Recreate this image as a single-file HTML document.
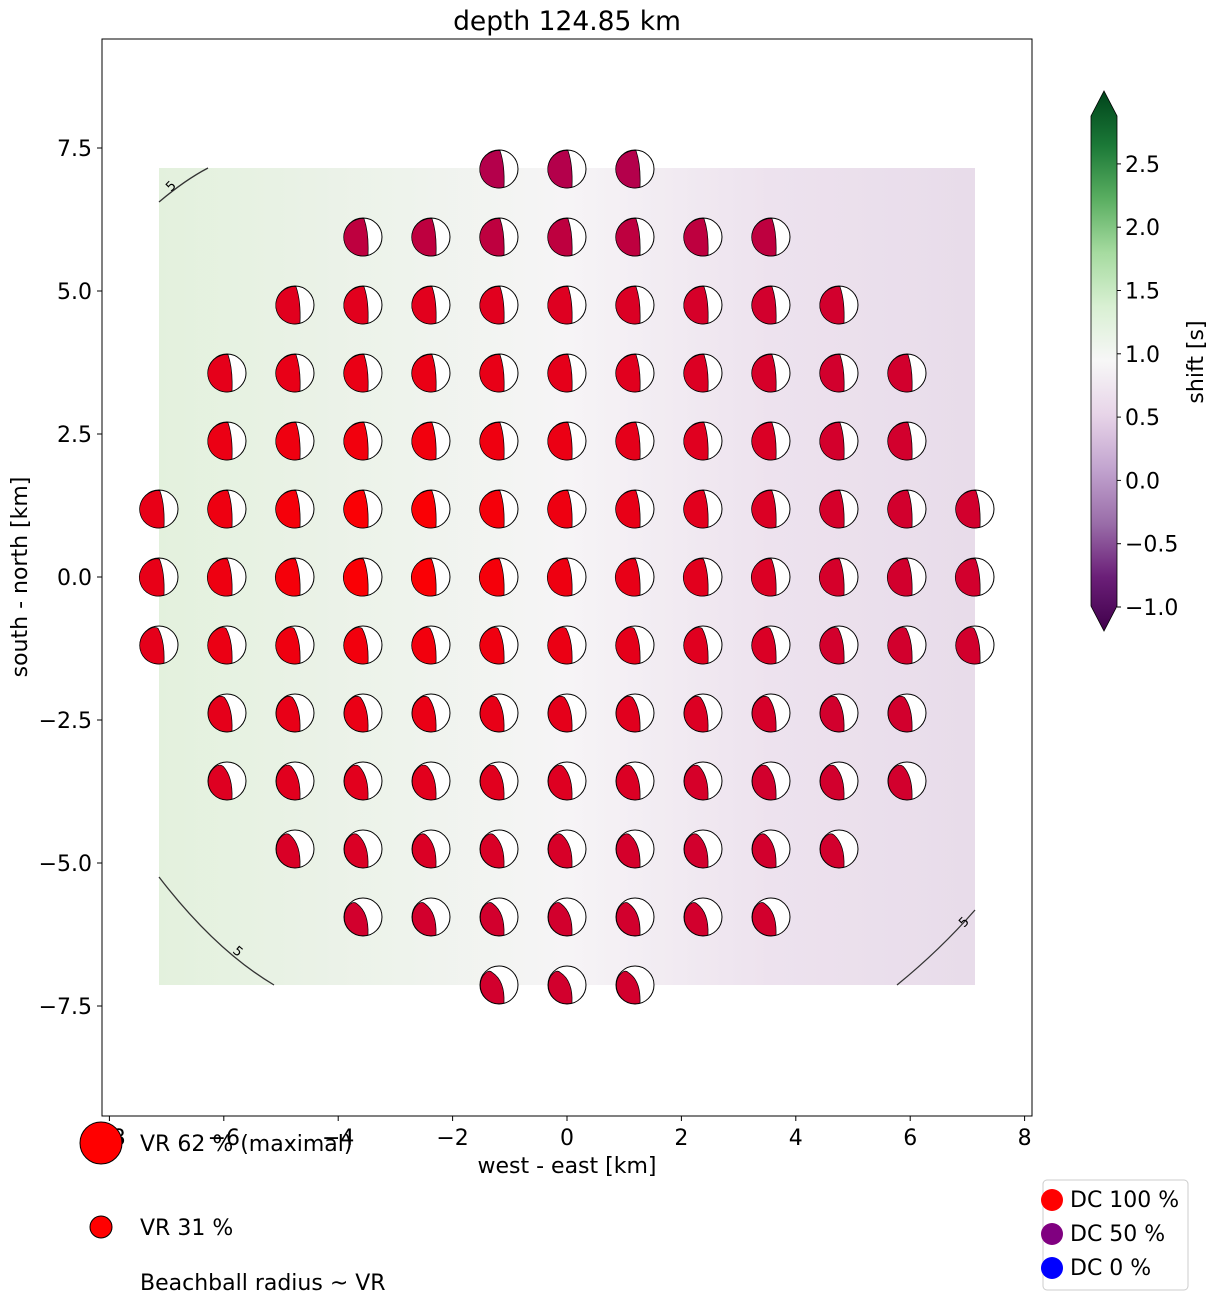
<!DOCTYPE html>
<html><head><meta charset="utf-8"><style>
body{margin:0;background:#fff;}
text{font-family:"DejaVu Sans","Liberation Sans",sans-serif;fill:#000;}
</style></head><body>
<svg id="s" width="1219" height="1305" xmlns="http://www.w3.org/2000/svg">
<defs>
<linearGradient id="bg" x1="0" y1="0" x2="1" y2="0">
<stop offset="0" stop-color="#e3f1dd"/>
<stop offset="0.3" stop-color="#eef3ec"/>
<stop offset="0.5" stop-color="#f6f4f6"/>
<stop offset="0.75" stop-color="#ede2ee"/>
<stop offset="1" stop-color="#e8dcea"/>
</linearGradient>
<linearGradient id="cb" x1="0" y1="1" x2="0" y2="0">
<stop offset="0" stop-color="#40004b"/>
<stop offset="0.1" stop-color="#6b1f78"/>
<stop offset="0.2" stop-color="#9a6ea9"/>
<stop offset="0.3" stop-color="#c2a4cf"/>
<stop offset="0.4" stop-color="#e7d4e8"/>
<stop offset="0.5" stop-color="#f7f7f7"/>
<stop offset="0.6" stop-color="#d9f0d3"/>
<stop offset="0.7" stop-color="#a6dba0"/>
<stop offset="0.8" stop-color="#5aae61"/>
<stop offset="0.9" stop-color="#1b7837"/>
<stop offset="1" stop-color="#00441b"/>
</linearGradient>
</defs>
<text x="567" y="30" font-size="26.5" text-anchor="middle">depth 124.85 km</text>
<rect x="159" y="168" width="816" height="817" fill="url(#bg)"/>
<path d="M159,202 Q185,180 208,168" stroke="#333" fill="none" stroke-width="1.3"/>
<text x="171" y="192" font-size="13" fill="#333" transform="rotate(-45 171 192)">5</text>
<path d="M159,877 Q215,950 274,985" stroke="#333" fill="none" stroke-width="1.3"/>
<text x="232" y="952" font-size="13" fill="#333" transform="rotate(40 232 952)">5</text>
<path d="M897,985 Q940,950 975,910" stroke="#333" fill="none" stroke-width="1.3"/>
<text x="964" y="928" font-size="13" fill="#333" transform="rotate(-45 964 928)">5</text>
<g id="balls"></g>
<rect x="102" y="39" width="930" height="1077" fill="none" stroke="#000" stroke-width="1"/>
<g id="ticks" font-size="22"></g>
<text x="567" y="1173" font-size="22" text-anchor="middle">west - east [km]</text>
<text x="27" y="577" font-size="22" text-anchor="middle" transform="rotate(-90 27 577)">south - north [km]</text>
<path d="M1091,116 L1104,91 L1117,116 L1117,606 L1104,631 L1091,606 Z" fill="url(#cb)" stroke="#000" stroke-width="0.8"/>
<g id="cbt" font-size="22"></g>
<text x="1203" y="362" font-size="22" text-anchor="middle" transform="rotate(-90 1203 362)">shift [s]</text>
<circle cx="101" cy="1143" r="21" fill="#f00" stroke="#000"/>
<text x="140" y="1151" font-size="22">VR 62 % (maximal)</text>
<circle cx="101" cy="1227" r="11" fill="#f00" stroke="#000"/>
<text x="140" y="1235" font-size="22">VR 31 %</text>
<text x="140" y="1290" font-size="22">Beachball radius ~ VR</text>
<rect x="1043" y="1180" width="145" height="110" rx="4" fill="#fff" stroke="#ccc"/>
<circle cx="1052" cy="1200" r="11" fill="#f00"/><text x="1070" y="1207" font-size="22">DC 100 %</text>
<circle cx="1052" cy="1234" r="11" fill="#800080"/><text x="1070" y="1241" font-size="22">DC 50 %</text>
<circle cx="1052" cy="1268" r="11" fill="#00f"/><text x="1070" y="1275" font-size="22">DC 0 %</text>
</svg>
<script>
var NS="http://www.w3.org/2000/svg";
function el(p,t,a,txt){var e=document.createElementNS(NS,t);for(var k in a)e.setAttribute(k,a[k]);if(txt!==undefined)e.textContent=txt;p.appendChild(e);return e;}
var tk=document.getElementById('ticks');
for(var v=-8;v<=8;v+=2){var x=567+v*57.2;el(tk,'line',{x1:x,y1:1116,x2:x,y2:1121,stroke:'#000'});
el(tk,'text',{x:x,y:1145,'text-anchor':'middle'},(v<0?'\u2212':'')+Math.abs(v));}
for(var v=-7.5;v<=7.5;v+=2.5){var y=577-v*57.2;el(tk,'line',{x1:97,y1:y,x2:102,y2:y,stroke:'#000'});
el(tk,'text',{x:92,y:y+8,'text-anchor':'end'},(v<0?'\u2212':'')+Math.abs(v).toFixed(1));}
var cbt=document.getElementById('cbt');
for(var v=-1;v<=2.5;v+=0.5){var y=607-(v+1)*126.6;el(cbt,'line',{x1:1117,y1:y,x2:1121,y2:y,stroke:'#000'});
el(cbt,'text',{x:1125,y:y+8},(v<0?'\u2212':'')+Math.abs(v).toFixed(1));}
var rows={6:1,5:3,4:4,3:5,2:5,1:6,0:6,'-1':6,'-2':5,'-3':5,'-4':4,'-5':3,'-6':1};
var phis={6:0.05,5:0.05,4:0.05,3:0.05,2:0.05,1:0.06,0:0.1,'-1':0.25,'-2':0.4,'-3':0.52,'-4':0.62,'-5':0.72,'-6':0.8};
var g=document.getElementById('balls');
function mix(a,b,t){return 'rgb('+a.map(function(c,i){return Math.round(c+(b[i]-c)*t)}).join(',')+')';}
function f(v){return v.toFixed(2);}
for(var j=-6;j<=6;j++){var n=rows[j];for(var k=-n;k<=n;k++){
var cx=567+k*68,cy=577-j*68;
var r=19;
var d=Math.sqrt(Math.pow((k+2.5)/7,2)+Math.pow((j-0.5)/5.5,2));var t=Math.min(1,d);
var col=mix([255,0,0],[210,0,45],t);
if(j>=5)col=mix([200,0,50],[180,0,75],(j-4)/2);
el(g,'circle',{cx:cx,cy:cy,r:r,fill:'#fff',stroke:'#000','stroke-width':1});
var phi=phis[j];
var Bx=cx+5,By=cy+Math.sqrt(r*r-25)-0.3;
var Tx=cx+1.5-10*phi,Ty=cy-18.7+8*phi;
var a=phi+0.3,Lx=cx-(r-0.5)*Math.sin(a),Ly=cy-(r-0.5)*Math.cos(a);
var a2=phi*0.6,Cx=cx-(r)*Math.sin(a2)-2,Cy=cy-(r)*Math.cos(a2);
var p='M'+f(Bx)+','+f(By)+' A'+(r-0.5)+','+(r-0.5)+' 0 0 1 '+f(Lx)+','+f(Ly)+' Q'+f(Cx)+','+f(Cy)+' '+f(Tx)+','+f(Ty)+' Q'+f(cx+6)+','+f(cy-4)+' '+f(Bx)+','+f(By)+'Z';
el(g,'path',{d:p,fill:col,stroke:'#000','stroke-width':0.7});
}}
</script>
</body></html>
